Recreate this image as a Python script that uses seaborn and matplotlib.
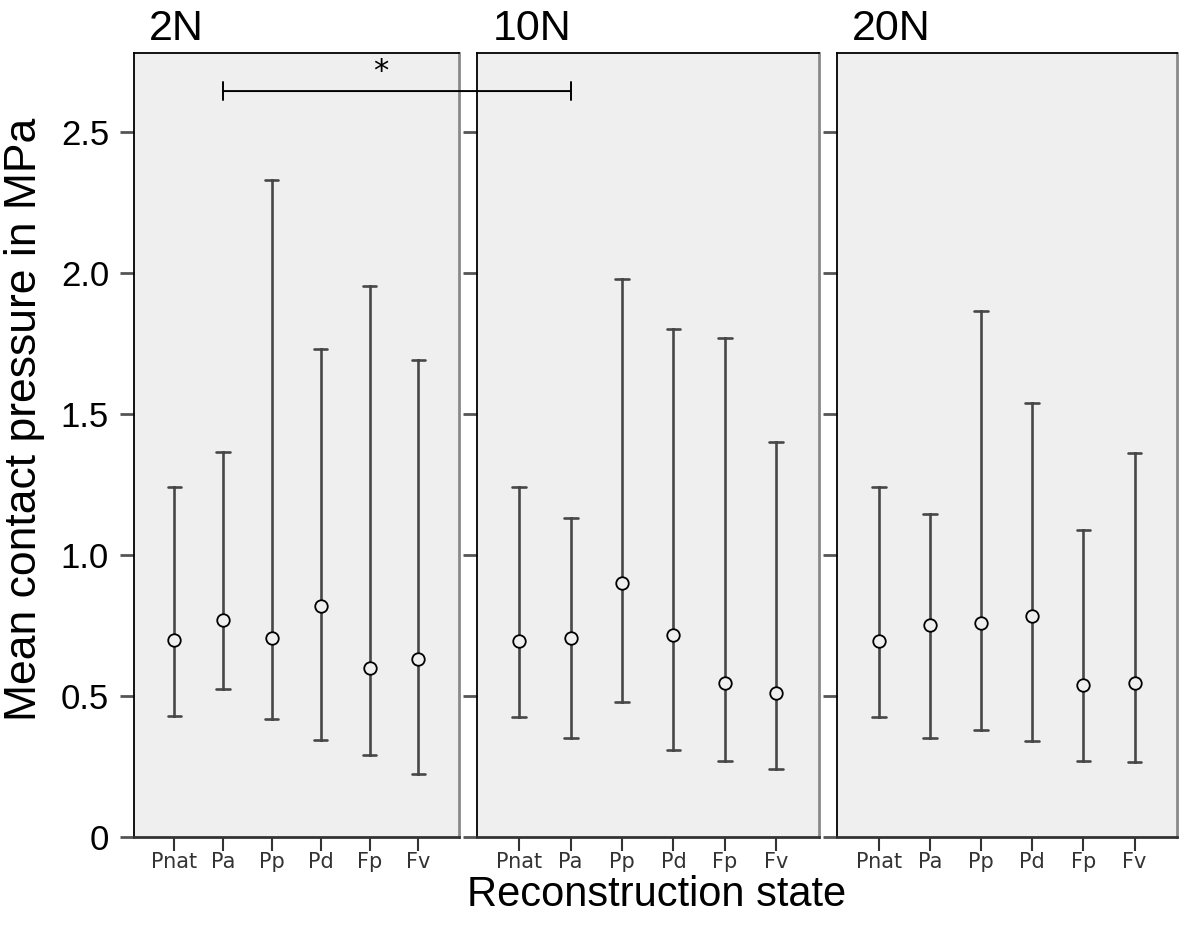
import pandas as pd
import seaborn as sns
import matplotlib.pyplot as plt
from matplotlib.patches import ConnectionPatch

states = ["Pnat", "Pa", "Pp", "Pd", "Fp", "Fv"]
loads = ["2N", "10N", "20N"]

# mean and error bar ends (MPa)
mean_2n = [0.70, 0.77, 0.705, 0.82, 0.60, 0.63]
low_2n = [0.43, 0.525, 0.42, 0.345, 0.29, 0.225]
high_2n = [1.24, 1.365, 2.33, 1.73, 1.955, 1.69]

mean_10n = [0.695, 0.705, 0.90, 0.715, 0.545, 0.51]
low_10n = [0.425, 0.35, 0.48, 0.31, 0.27, 0.24]
high_10n = [1.24, 1.13, 1.98, 1.80, 1.77, 1.40]

mean_20n = [0.695, 0.75, 0.76, 0.785, 0.54, 0.545]
low_20n = [0.425, 0.35, 0.38, 0.34, 0.27, 0.265]
high_20n = [1.24, 1.145, 1.865, 1.54, 1.09, 1.36]

y_ticks = [0, 0.5, 1.0, 1.5, 2.0, 2.5]
y_ticklabels = ["0", "0.5", "1.0", "1.5", "2.0", "2.5"]

# significance bracket: Pa (2N) vs Pa (10N)
sig_state = "Pa"
sig_y = 2.645
sig_label = "*"

summary = {
    "2N": (low_2n, mean_2n, high_2n),
    "10N": (low_10n, mean_10n, high_10n),
    "20N": (low_20n, mean_20n, high_20n),
}

rows = []
for load in loads:
    lo, mu, hi = summary[load]
    for i, s in enumerate(states):
        for v in (lo[i], mu[i], hi[i]):
            rows.append({"load": load, "state": s, "value": v})
df = pd.DataFrame(rows)

sns.set_style("white")
plt.rcParams["font.family"] = ["Liberation Sans", "DejaVu Sans"]
plt.rcParams["text.color"] = "black"
plt.rcParams["ytick.labelcolor"] = "black"

bg = "#efefef"
fig = plt.figure(figsize=(11.81, 9.33), dpi=100)
ax_pos = [
    [0.1135, 0.1029, 0.2752, 0.8403],
    [0.4039, 0.1029, 0.2896, 0.8403],
    [0.7087, 0.1029, 0.2879, 0.8403],
]
axes = [fig.add_axes(p) for p in ax_pos]

for ax, load in zip(axes, loads):
    sub = df[df["load"] == load]
    sns.pointplot(data=sub, x="state", y="value", order=states,
                  estimator="median", errorbar=lambda v: (v.min(), v.max()),
                  color="#474747", linestyle="none", marker="o",
                  markersize=9, markerfacecolor=bg, markeredgecolor="black",
                  markeredgewidth=1.3, capsize=0.27,
                  err_kws={"linewidth": 1.9}, ax=ax)
    for ln in ax.lines:
        if ln.get_marker() == "o":
            ln.set_zorder(5)
            ln.set_markerfacecolor(bg)
    ax.set_facecolor(bg)
    ax.set_xlim(-0.82, 5.83)
    ax.set_ylim(0, 2.78)
    ax.set_xlabel("")
    ax.set_ylabel("")
    ax.set_yticks(y_ticks)
    ax.set_yticklabels(y_ticklabels, fontsize=25, color="black")
    ax.set_xticks(range(len(states)))
    ax.set_xticklabels(states, fontsize=15, family="DejaVu Sans", color="#333333")
    ax.tick_params(axis="y", direction="out", length=10, width=2,
                   color="#555555", left=True, pad=8)
    ax.tick_params(axis="x", direction="out", length=10, width=1.5,
                   color="#333333", bottom=True, pad=1)
    for side in ("top", "left"):
        ax.spines[side].set_color("black")
        ax.spines[side].set_linewidth(1.3)
    ax.spines["right"].set_color("#8a8a8a")
    ax.spines["right"].set_linewidth(2)
    ax.spines["bottom"].set_color("#333333")
    ax.spines["bottom"].set_linewidth(2)
    ax.annotate(load, xy=(0, 1), xycoords="axes fraction", xytext=(11, 9),
                textcoords="offset points", fontsize=31, va="baseline",
                color="black")

for ax in axes[1:]:
    ax.tick_params(axis="y", labelleft=False)

# bracket across the first two panels
con = ConnectionPatch(xyA=(sig_state, sig_y), coordsA="data", axesA=axes[0],
                      xyB=(sig_state, sig_y), coordsB="data", axesB=axes[1],
                      color="black", linewidth=1.4)
fig.add_artist(con)
for ax in axes[:2]:
    ax.plot([sig_state, sig_state], [sig_y - 0.033, sig_y + 0.033],
            color="black", linewidth=1.4, clip_on=False)
axes[0].annotate(sig_label, xy=("Fp", sig_y), xycoords="data",
                 xytext=(8, 4), textcoords="offset points", fontsize=22,
                 ha="center", va="bottom", family="DejaVu Sans",
                 annotation_clip=False, color="black")

fig.text(0.021, 0.55, "Mean contact pressure in MPa", rotation=90,
         ha="center", va="center", fontsize=32, color="black")
fig.text(0.556, 0.029, "Reconstruction state", ha="center", va="baseline",
         fontsize=30, color="black")

fig.savefig("out.png", dpi=100)
